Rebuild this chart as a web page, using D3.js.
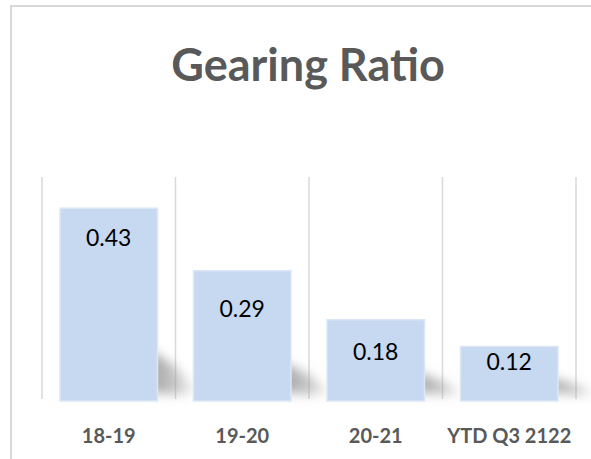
<!DOCTYPE html>
<html><head><meta charset="utf-8">
<script src="https://cdn.jsdelivr.net/npm/d3@7"></script>
<style>html,body{margin:0;padding:0;background:#fff;overflow:hidden}</style>
</head><body><svg id="c" width="591" height="459"></svg>
<script>
const categories = ["18-19", "19-20", "20-21", "YTD Q3 2122"];
const values = [0.43, 0.29, 0.18, 0.12];
const yTicks = [0, 0.1, 0.2, 0.3, 0.4, 0.5];
const title = "Gearing Ratio";

const svg = d3.select("#c");
const W = 591, H = 459;

// chart frame
svg.append("line").attr("x1", 10).attr("x2", W).attr("y1", 6).attr("y2", 6)
  .attr("stroke", "#d9d9d9").attr("stroke-width", 2);
svg.append("line").attr("x1", 11).attr("x2", 11).attr("y1", 6).attr("y2", H)
  .attr("stroke", "#d9d9d9").attr("stroke-width", 2);

const x = d3.scaleBand().domain(categories).range([42, 576]).paddingInner(0.27).paddingOuter(0.135);
const y = d3.scaleLinear().domain([0, 0.5]).range([400, 177]);

// category separators
const edges = [42].concat(categories.map((c, i) => 42 + (i + 1) * (576 - 42) / categories.length));
svg.append("g").selectAll("line").data(edges).join("line")
  .attr("x1", d => d).attr("x2", d => d)
  .attr("y1", y(0.5)).attr("y2", y(0) - 1)
  .attr("stroke", "#d9d9d9").attr("stroke-width", 1.5);

// shadow defs
const defs = svg.append("defs");
defs.append("filter").attr("id", "blur").attr("x", "-50%").attr("y", "-50%").attr("width", "200%").attr("height", "200%")
  .append("feGaussianBlur").attr("stdDeviation", 5.5);
const grad = defs.append("linearGradient").attr("id", "sg").attr("x1", "0").attr("x2", "1").attr("y1", "0").attr("y2", "0");
grad.append("stop").attr("offset", "0").attr("stop-color", "#8a8a8a").attr("stop-opacity", 0.8);
grad.append("stop").attr("offset", "0.5").attr("stop-color", "#999").attr("stop-opacity", 0.55);
grad.append("stop").attr("offset", "1").attr("stop-color", "#bbb").attr("stop-opacity", 0);

const data = categories.map((c, i) => ({ c, v: values[i] }));

svg.append("g").selectAll("path").data(data).join("path")
  .attr("d", d => {
    const x1 = x(d.c) + x.bandwidth();
    const b = y(0);
    const h = y(0) - y(d.v);
    const sh = 12 + 0.2 * h;
    return `M${x1 - 8},${b - sh} L${x1 + 16},${b - sh * 0.7} L${x1 + 44},${b - 6} L${x1 + 18},${b - 5} L${x1 - 8},${b - 8} Z`;
  })
  .attr("fill", "url(#sg)")
  .attr("filter", "url(#blur)");

// bars
svg.append("g").selectAll("rect").data(data).join("rect")
  .attr("x", d => x(d.c))
  .attr("y", d => y(d.v))
  .attr("width", x.bandwidth())
  .attr("height", d => y(0) - y(d.v) + 1)
  .attr("fill", "#c6d9f1")
  .attr("stroke", "#dce7f5").attr("stroke-width", 1.5);

// value labels
const labelOffsets = [30, 38, 32, 15];
svg.append("g").selectAll("text").data(data).join("text")
  .attr("x", d => x(d.c) + x.bandwidth() / 2)
  .attr("y", (d, i) => y(d.v) + labelOffsets[i])
  .attr("dy", "0.35em")
  .attr("text-anchor", "middle")
  .attr("font-family", "Lato, sans-serif")
  .attr("font-size", 23)
  .attr("fill", "#000")
  .text(d => d.v.toFixed(2));

// category labels
svg.append("g").selectAll("text").data(categories).join("text")
  .attr("x", d => x(d) + x.bandwidth() / 2)
  .attr("y", 436)
  .attr("dy", "0.35em")
  .attr("text-anchor", "middle")
  .attr("font-family", "Lato, sans-serif")
  .attr("font-weight", "bold")
  .attr("font-size", 20)
  .attr("fill", "#595959")
  .text(d => d);

// title
svg.append("text")
  .attr("x", 308).attr("y", 81)
  .attr("text-anchor", "middle")
  .attr("font-family", "Lato, sans-serif")
  .attr("font-weight", "bold")
  .attr("font-size", 45)
  .attr("fill", "#595959")
  .text(title);
</script>
</body></html>
